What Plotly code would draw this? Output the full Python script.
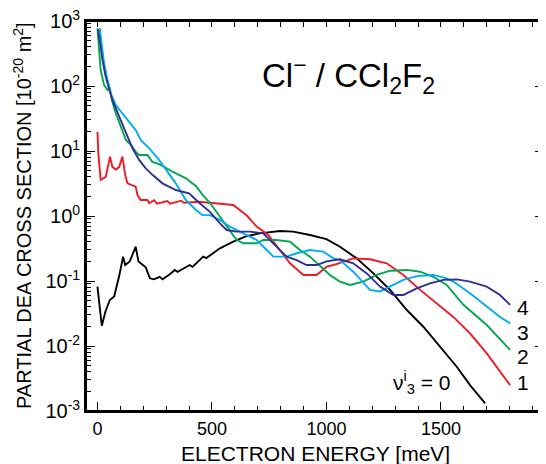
import math
import plotly.graph_objects as go

# v3 = 0 (black)
E0 = [0, 19, 35, 54, 73, 95, 112, 121, 141, 167, 179, 211, 229, 246, 272, 284, 316, 338, 350, 403, 415, 462, 475, 535, 593, 651, 709, 797, 855, 928, 1000, 1059, 1132, 1205, 1278, 1351, 1423, 1496, 1569, 1627, 1693]
S0 = [0.082, 0.0205, 0.034, 0.051, 0.058, 0.12, 0.237, 0.176, 0.20, 0.337, 0.20, 0.162, 0.110, 0.106, 0.116, 0.106, 0.127, 0.148, 0.138, 0.176, 0.165, 0.237, 0.225, 0.318, 0.403, 0.49, 0.54, 0.588, 0.575, 0.51, 0.44, 0.337, 0.223, 0.131, 0.0728, 0.0358, 0.0198, 0.0098, 0.0048, 0.0025, 0.00131]

# v3 = 1 (red)
E1 = [0, 4, 14, 36, 55, 65, 80, 95, 109, 121, 131, 153, 167, 175, 189, 218, 226, 247, 260, 305, 318, 365, 378, 444, 535, 593, 651, 695, 746, 797, 841, 899, 957, 1001, 1030, 1117, 1190, 1263, 1336, 1409, 1482, 1554, 1627, 1700, 1802]
S1 = [19.8, 9.0, 3.58, 4.0, 8.2, 5.7, 5.2, 5.7, 8.2, 4.3, 3.18, 3.0, 2.83, 2.1, 1.76, 1.76, 1.57, 1.75, 1.55, 1.7, 1.55, 1.72, 1.6, 1.66, 1.57, 1.48, 1.03, 0.686, 0.51, 0.30, 0.187, 0.124, 0.124, 0.166, 0.176, 0.223, 0.216, 0.187, 0.124, 0.073, 0.045, 0.028, 0.0157, 0.0077, 0.0025]

# v3 = 2 (green)
E2 = [0, 14, 29, 44, 54, 63, 80, 95, 109, 124, 146, 167, 182, 218, 240, 277, 328, 386, 430, 460, 491, 520, 549, 578, 607, 637, 695, 724, 782, 841, 884, 928, 972, 1015, 1059, 1103, 1161, 1219, 1278, 1351, 1409, 1467, 1525, 1598, 1700, 1802]
S2 = [770, 176, 103, 87, 92, 61, 38, 28, 19.8, 14.8, 12.4, 9.8, 8.7, 8.7, 6.8, 6.1, 4.8, 3.8, 2.9, 2.1, 1.6, 1.15, 0.82, 0.6, 0.43, 0.38, 0.38, 0.428, 0.428, 0.403, 0.30, 0.237, 0.17, 0.124, 0.098, 0.087, 0.098, 0.124, 0.144, 0.148, 0.139, 0.116, 0.087, 0.043, 0.021, 0.0087]

# v3 = 3 (cyan)
E3 = [10, 29, 44, 58, 80, 109, 138, 167, 189, 226, 269, 306, 342, 386, 430, 459, 491, 535, 578, 637, 695, 739, 768, 826, 870, 928, 986, 1030, 1059, 1117, 1161, 1190, 1234, 1278, 1336, 1394, 1467, 1525, 1554, 1627, 1700, 1758, 1802]
S3 = [780, 223, 124, 77, 51, 38, 28, 21, 14.8, 11, 7.3, 4.8, 3.18, 1.76, 1.24, 1.03, 1.03, 0.868, 0.686, 0.54, 0.428, 0.30, 0.237, 0.237, 0.267, 0.30, 0.283, 0.223, 0.21, 0.139, 0.092, 0.073, 0.069, 0.082, 0.104, 0.119, 0.124, 0.11, 0.098, 0.065, 0.040, 0.028, 0.0223]

# v3 = 4 (dark blue)
E4 = [3, 22, 36, 51, 65, 95, 124, 153, 182, 211, 240, 284, 342, 400, 444, 491, 535, 564, 607, 666, 724, 782, 826, 870, 913, 957, 1001, 1059, 1117, 1176, 1234, 1292, 1336, 1394, 1452, 1511, 1569, 1627, 1700, 1758, 1802]
S4 = [750, 251, 139, 92, 61, 33.7, 18.7, 11, 7.3, 5.4, 4.3, 3.18, 2.51, 2.23, 1.6, 1.16, 0.772, 0.609, 0.575, 0.575, 0.54, 0.337, 0.237, 0.21, 0.176, 0.176, 0.20, 0.216, 0.187, 0.131, 0.082, 0.061, 0.061, 0.077, 0.092, 0.104, 0.106, 0.098, 0.082, 0.061, 0.043]

series = [
    (E0, S0, "#000000"),
    (E1, S1, "#ED1C24"),
    (E2, S2, "#00A651"),
    (E3, S3, "#00AEEF"),
    (E4, S4, "#2E3192"),
]

curve_labels = ["4", "3", "2", "1"]
label_x = [1860, 1860, 1860, 1860]
label_y = [0.0385, 0.0164, 0.0068, 0.0027]

x_range = [-50, 1950]
y_tickvals = [1e-3, 1e-2, 1e-1, 1e0, 1e1, 1e2, 1e3]
y_ticktext = ["10<sup>-3</sup>", "10<sup>-2</sup>", "10<sup>-1</sup>", "10<sup>0</sup>",
              "10<sup>1</sup>", "10<sup>2</sup>", "10<sup>3</sup>"]
minor_y = [m * 10.0 ** d for d in range(-3, 3) for m in range(2, 10)]

fig = go.Figure()
for E, S, c in series:
    fig.add_trace(go.Scatter(x=E, y=S, mode="lines", line=dict(color=c, width=1.9),
                             showlegend=False, hoverinfo="skip"))
# invisible copy on the mirror axes so that the top/right axes are drawn
fig.add_trace(go.Scatter(x=E0, y=S0, xaxis="x2", yaxis="y2", mode="lines",
                         line=dict(width=0, color="rgba(0,0,0,0)"), showlegend=False, hoverinfo="skip"))

font = "Liberation Sans, Arial, sans-serif"

# page body has an 8px margin: figure is drawn at (8, 8) in the window
fig.update_layout(
    width=546, height=464,
    margin=dict(l=78, r=10, t=13, b=61),
    paper_bgcolor="white", plot_bgcolor="white",
    font=dict(family=font, color="black", size=16),
    showlegend=False,
)
tick_common = dict(tickwidth=1.3, tickcolor="black", showgrid=False, zeroline=False,
                   showline=True, linecolor="black", linewidth=1.8, automargin=False,
                   ticklabeloverflow="allow")
fig.update_layout(
    xaxis=dict(range=x_range, tick0=0, dtick=500, ticks="inside", ticklen=9, mirror=True,
               minor=dict(ticks="inside", dtick=100, ticklen=5, tickwidth=1.3, tickcolor="black", showgrid=False),
               tickfont=dict(size=18), **tick_common),
    xaxis2=dict(range=x_range, overlaying="x", side="top", anchor="y2", tick0=0, dtick=100,
                ticks="inside", ticklen=6, showticklabels=False, **tick_common),
    yaxis=dict(type="log", range=[-3, 3], tickmode="array", tickvals=y_tickvals, ticktext=y_ticktext,
               ticks="inside", ticklen=9, mirror=True,
               minor=dict(ticks="inside", tickvals=minor_y, ticklen=5, tickwidth=1.3, tickcolor="black", showgrid=False),
               tickfont=dict(size=20), **tick_common),
    yaxis2=dict(type="log", range=[-3, 3], overlaying="y", side="right", anchor="x2",
                tickmode="array", tickvals=y_tickvals, ticks="inside", ticklen=9, showticklabels=False,
                minor=dict(ticks="inside", tickvals=minor_y, ticklen=5, tickwidth=1.3, tickcolor="black", showgrid=False),
                **tick_common),
    shapes=[
        dict(type="rect", xref="paper", yref="paper", x0=0, x1=1, y0=0, y1=1,
             line=dict(color="black", width=2), fillcolor="rgba(0,0,0,0)", layer="above"),
    ],
)

# axis titles
fig.add_annotation(xref="paper", yref="paper", x=0, y=0.5, xshift=-64, textangle=-90,
                   text="PARTIAL DEA CROSS SECTION [10<sup>-20</sup> m<sup>2</sup>]",
                   showarrow=False, font=dict(size=20), xanchor="center", yanchor="middle")
fig.add_annotation(xref="paper", yref="paper", x=0.5, y=0, yshift=-42,
                   text="ELECTRON ENERGY [meV]",
                   showarrow=False, font=dict(size=21), xanchor="center", yanchor="middle")

for t, x, y in zip(curve_labels, label_x, label_y):
    fig.add_annotation(x=x, y=math.log10(y), yref="y", xref="x", text=t, showarrow=False,
                       font=dict(size=21), xanchor="center", yanchor="middle")

fig.add_annotation(x=1416, y=math.log10(0.0027), text="ν<sup>i</sup><sub>3</sub> = 0", showarrow=False,
                   font=dict(size=21), xanchor="center", yanchor="middle")
fig.add_annotation(xref="paper", yref="paper", x=0.574, y=0.86,
                   text="Cl<sup>−</sup> / CCl<sub>2</sub>F<sub>2</sub>", showarrow=False,
                   font=dict(size=33), xanchor="center", yanchor="middle")

fig.write_html("out.html")
